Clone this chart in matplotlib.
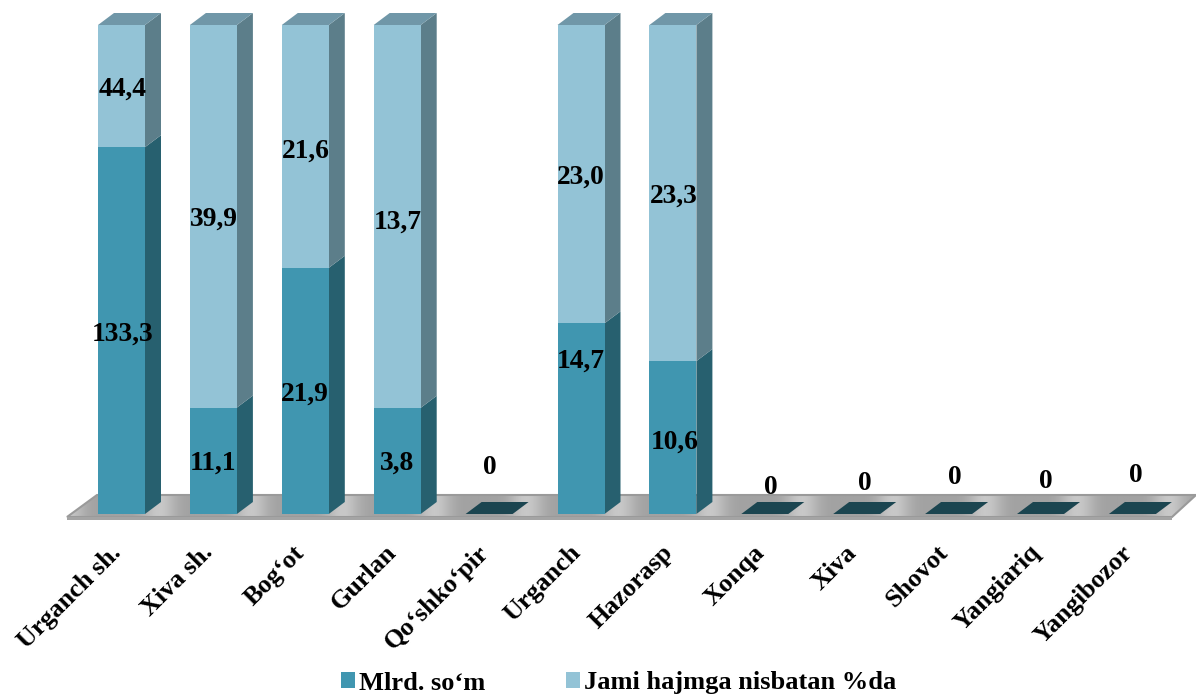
import numpy as np
import matplotlib
matplotlib.use("Agg")
import matplotlib.pyplot as plt
from matplotlib.patches import Polygon, Patch

plt.rcParams['font.family'] = ['Liberation Serif', 'DejaVu Serif']

categories = ["Urganch sh.", "Xiva sh.", "Bog\u2018ot", "Gurlan", "Qo\u2018shko\u2018pir", "Urganch",
              "Hazorasp", "Xonqa", "Xiva", "Shovot", "Yangiariq", "Yangibozor"]
mlrd = [133.3, 11.1, 21.9, 3.8, 0, 14.7, 10.6, 0, 0, 0, 0, 0]
share = [44.4, 39.9, 21.6, 13.7, 0, 23.0, 23.3, 0, 0, 0, 0, 0]
series_names = ["Mlrd. so\u2018m", "Jami hajmga nisbatan %da"]

W, H = 1196, 697
x0_px, step_px = 121.5, 91.9
y0_px, y1_px = 514.0, 25.0
bw_px, dx_px, dy_px = 47.0, 16.0, 12.0
ux = 1 / step_px            # category units per pixel
uy = 1 / (y0_px - y1_px)    # share units per pixel

fig = plt.figure(figsize=(W / 100, H / 100), dpi=100)
ax = fig.add_axes([0, 0, 1, 1])
ax.axis("off")

C_D, C_DS, C_L, C_LS, C_LT, C_Z = "#4096b0", "#27606f", "#93c3d6", "#5c7e8a", "#7097a8", "#1b4550"
bw, dx, dy = bw_px * ux, dx_px * ux, dy_px * uy


def py(p):
    return (y0_px - p) * uy


def px(p):
    return (p - x0_px) * ux


# floor
floor = [(px(67), py(517)), (px(1172), py(517)), (px(1196), py(495)), (px(97), py(495))]
xs = np.linspace(px(60), px(1196), 1200)
tex = 0.5 + 0.5 * np.cos(2 * np.pi * (xs - 0.5) + 0.6)
im = ax.imshow(np.tile(tex ** 3, (2, 1)),
               cmap=matplotlib.colors.LinearSegmentedColormap.from_list("g", ["#a2a2a2", "#c8c8c8"]),
               extent=[xs[0], xs[-1], py(518), py(494)], aspect="auto", zorder=1)
pg = Polygon(floor, closed=True, facecolor="none", edgecolor="#9a9a9a", lw=1.5, zorder=2)
ax.add_patch(pg)
im.set_clip_path(pg)
ax.add_patch(Polygon([(px(67), py(520)), (px(1172), py(520)), (px(1172), py(517)), (px(67), py(517))],
                     closed=True, facecolor="#a4a4a4", edgecolor="none", zorder=2))
ax.set_xlim(-x0_px * ux, (W - x0_px) * ux)
ax.set_ylim(-(H - y0_px) * uy, y0_px * uy)

idx = np.arange(len(categories))
m = np.array(mlrd, float)
s = np.array(share, float)
tot = m + s
low = np.divide(m, tot, out=np.zeros_like(m), where=tot > 0)
high = np.divide(s, tot, out=np.zeros_like(m), where=tot > 0)

ax.bar(idx, low, bw, color=C_D, edgecolor="none", zorder=4)
ax.bar(idx, high, bw, bottom=low, color=C_L, edgecolor="none", zorder=4)

for i in idx:
    l, r = i - bw / 2, i + bw / 2
    if tot[i] == 0:
        ax.add_patch(Polygon([(l, 0), (r, 0), (r + dx, dy), (l + dx, dy)], closed=True, fc=C_Z, ec="none", zorder=4))
        continue
    ax.add_patch(Polygon([(r, 0), (r + dx, dy), (r + dx, low[i] + dy), (r, low[i])], closed=True, fc=C_DS, ec="none", zorder=3))
    ax.add_patch(Polygon([(r, low[i]), (r + dx, low[i] + dy), (r + dx, 1 + dy), (r, 1)], closed=True, fc=C_LS, ec="none", zorder=3))
    ax.add_patch(Polygon([(l, 1), (r, 1), (r + dx, 1 + dy), (l + dx, 1 + dy)], closed=True, fc=C_LT, ec="none", zorder=3))

# value labels: nudges in pixels relative to segment middles / baseline
low_nudge = [(1, -3.5), (0, -2.5), (0, -3.5), (0, -2.5), (0, 0), (0, 57.5), (2, -4.5)]
high_nudge = [(1, -3), (1, -2.5), (1, -4.5), (1, -5.5), (0, 0), (0, -3.5), (1, -3.5)]
zero_y_px = {4: 467, 7: 487, 8: 483.5, 9: 477.5, 10: 481.5, 11: 475.5}
zero_x_px = {4: 490, 7: 771, 8: 865, 9: 955, 10: 1046, 11: 1136}
fmt = lambda v: f"{v:.1f}".replace(".", ",")
kw = dict(ha="center", va="center", fontsize=19.8, fontweight="bold", color="black", zorder=6)
for i in idx:
    if tot[i] == 0:
        ax.text(px(zero_x_px[i]), py(zero_y_px[i]), "0", **kw)
    else:
        ax.annotate(fmt(m[i]), (i, low[i] / 2), xytext=(low_nudge[i][0] * .72, low_nudge[i][1] * .72),
                    textcoords="offset points", **kw)
        ax.annotate(fmt(s[i]), (i, low[i] + high[i] / 2), xytext=(high_nudge[i][0] * .72, high_nudge[i][1] * .72),
                    textcoords="offset points", **kw)

# category labels
for i, name in zip(idx, categories):
    ax.annotate(name, (i, 0), xytext=(-4 * .72, -35 * .72), textcoords="offset points", rotation=45,
                rotation_mode="anchor", ha="right", va="center", fontsize=18.8, fontweight="bold", color="black", zorder=6)

handles = [Patch(fc=C_D, ec="none"), Patch(fc=C_L, ec="none")]
fig.legend(handles, series_names, ncol=2, loc="center", bbox_to_anchor=(618.5 / W, 1 - 683 / H), frameon=False,
           prop=dict(size=19, weight="bold"), handlelength=0.53, handleheight=0.53, handletextpad=0.15,
           columnspacing=3.07, borderpad=0)

fig.savefig("out.png", dpi=100)
